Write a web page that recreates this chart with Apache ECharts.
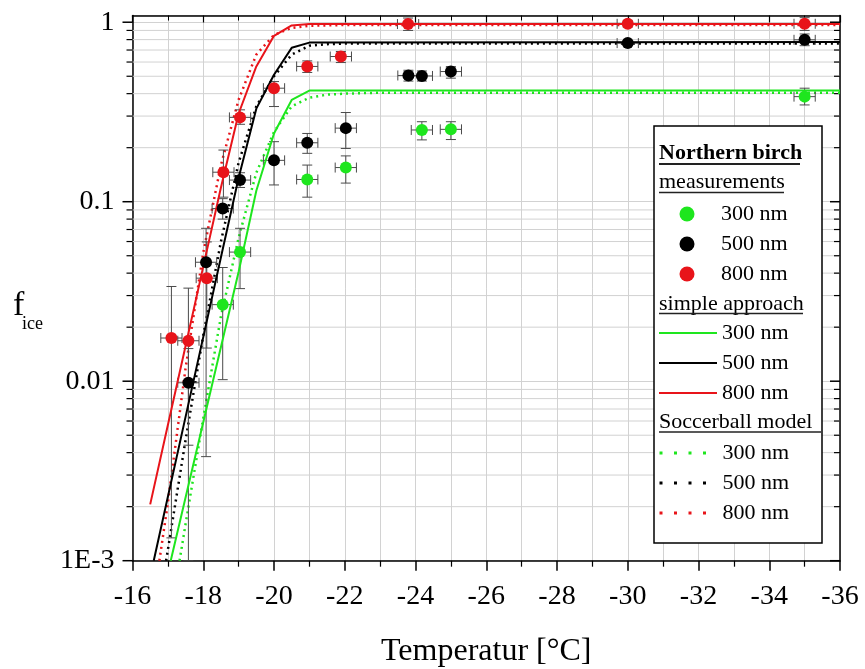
<!DOCTYPE html>
<html>
<head>
<meta charset="utf-8">
<script src="https://cdn.jsdelivr.net/npm/echarts@6/dist/echarts.min.js"></script>
<style>html,body{margin:0;padding:0;background:#fff;}#c{width:865px;height:669px;}</style>
</head>
<body>
<div id="c"></div>
<script>
// ---------- data ----------
const xRange = [-36, -16];
const yRange = [0.001, 1.09];
const yMajorTicks = [0.001, 0.01, 0.1, 1];
const yMajorLabels = ['1E-3', '0.01', '0.1', '1'];
const yMinorTicks = [0.002,0.003,0.004,0.005,0.006,0.007,0.008,0.009,
                     0.02,0.03,0.04,0.05,0.06,0.07,0.08,0.09,
                     0.2,0.3,0.4,0.5,0.6,0.7,0.8,0.9];

// measurements: temperature, f_ice, lower, upper
const m300T  = [-18.55, -19.04, -20.94, -22.03, -24.18, -25.0, -35.0];
const m300F  = [0.0267, 0.0524, 0.133, 0.155, 0.251, 0.253, 0.385];
const m300Lo = [0.0102, 0.0328, 0.106, 0.127, 0.221, 0.222, 0.346];
const m300Hi = [0.043, 0.0711, 0.160, 0.180, 0.279, 0.279, 0.429];

const m500T  = [-17.58, -18.08, -18.55, -19.04, -20.0, -20.94, -22.03, -23.8, -24.18, -25.0, -30.0, -35.0];
const m500F  = [0.0098, 0.046, 0.0916, 0.132, 0.170, 0.213, 0.257, 0.505, 0.502, 0.531, 0.765, 0.798];
const m500Lo = [0.0044, 0.0038, 0.080, 0.120, 0.124, 0.186, 0.198, 0.470, 0.470, 0.488, 0.740, 0.740];
const m500Hi = [0.0152, 0.0711, 0.104, 0.145, 0.216, 0.240, 0.314, 0.540, 0.535, 0.566, 0.790, 0.860];

const m800T  = [-17.1, -17.58, -18.1, -18.57, -19.04, -20.0, -20.94, -21.89, -23.79, -30.0, -35.0];
const m800F  = [0.0174, 0.0168, 0.0375, 0.146, 0.295, 0.429, 0.567, 0.644, 0.977, 0.98, 0.98];
const m800Lo = [0.00134, 0.001, 0.0153, 0.106, 0.270, 0.339, 0.525, 0.596, 0.90, 0.94, 0.90];
const m800Hi = [0.0337, 0.033, 0.0597, 0.194, 0.325, 0.467, 0.609, 0.687, 1.055, 1.02, 1.06];

const tempErr = 0.3;

// simple approach
const s300T = [-17.08, -17.5, -18, -18.5, -19, -19.5, -20, -20.5, -21, -36];
const s300F = [0.001, 0.00225, 0.0059, 0.0155, 0.0407, 0.115, 0.24, 0.369, 0.416, 0.416];
const s500T = [-16.6, -17, -17.5, -18, -18.5, -19, -19.5, -20, -20.5, -21, -36];
const s500F = [0.001, 0.00227, 0.00633, 0.0176, 0.049, 0.136, 0.33, 0.51, 0.72, 0.77, 0.775];
const s800T = [-16.5, -17, -17.5, -18, -18.5, -19, -19.5, -20, -20.5, -21, -36];
const s800F = [0.00206, 0.0057, 0.0157, 0.0435, 0.12, 0.31, 0.567, 0.84, 0.96, 0.978, 0.978];

// soccerball model
const b300T = [-17.33, -17.5, -18, -18.5, -19, -19.5, -20, -20.5, -21, -21.5, -22, -23, -36];
const b300F = [0.001, 0.0016, 0.0062, 0.023, 0.063, 0.145, 0.245, 0.34, 0.38, 0.395, 0.40, 0.405, 0.405];
const b500T = [-16.95, -17, -17.5, -18, -18.5, -19, -19.5, -20, -20.5, -21, -21.5, -22, -36];
const b500F = [0.001, 0.00115, 0.0047, 0.018, 0.06, 0.165, 0.34, 0.50, 0.66, 0.74, 0.755, 0.76, 0.76];
const b800T = [-16.76, -17, -17.5, -18, -18.5, -19, -19.5, -20, -20.5, -21, -22, -36];
const b800F = [0.001, 0.0021, 0.0118, 0.052, 0.16, 0.37, 0.66, 0.85, 0.93, 0.955, 0.965, 0.965];

// ---------- styles ----------
const FONT = '"Liberation Serif", "Times New Roman", serif';
const GREEN = '#1ee61e', BLACK = '#000000', RED = '#e8141a';
const GRID = '#d2d2d2';

const zip = (a, b) => a.map((v, i) => [v, b[i]]);
const errData = (T, F, Lo, Hi) => T.map((t, i) => [t, F[i], Lo[i], Hi[i], tempErr]);

function renderErr(params, api) {
  const x = api.value(0), y = api.value(1), lo = api.value(2), hi = api.value(3), xe = api.value(4);
  const pLo = api.coord([x, lo]), pHi = api.coord([x, hi]);
  const pA = api.coord([x + xe, y]), pB = api.coord([x - xe, y]);
  const cap = 5;
  const st = { stroke: '#4a4a4a', lineWidth: 1 };
  const ln = (x1, y1, x2, y2) => ({ type: 'line', shape: { x1, y1, x2, y2 }, style: st });
  return {
    type: 'group',
    children: [
      ln(pLo[0], pLo[1], pHi[0], pHi[1]),
      ln(pLo[0] - cap, pLo[1], pLo[0] + cap, pLo[1]),
      ln(pHi[0] - cap, pHi[1], pHi[0] + cap, pHi[1]),
      ln(pA[0], pA[1], pB[0], pB[1]),
      ln(pA[0], pA[1] - cap, pA[0], pA[1] + cap),
      ln(pB[0], pB[1] - cap, pB[0], pB[1] + cap)
    ]
  };
}

function renderYTicks(params, api) {
  const v = api.value(1), major = api.value(2) === 1;
  const pl = api.coord([xRange[1], v]), pr = api.coord([xRange[0], v]);
  const ch = [];
  if (!major) ch.push({ type: 'line', shape: { x1: pl[0], y1: pl[1], x2: pr[0], y2: pr[1] }, style: { stroke: GRID, lineWidth: 1 } });
  const L = major ? 10 : 6;
  const w = major ? 1.5 : 1.2;
  ch.push({ type: 'line', shape: { x1: pl[0] - L, y1: pl[1], x2: pl[0], y2: pl[1] }, style: { stroke: '#000', lineWidth: w } });
  ch.push({ type: 'line', shape: { x1: pr[0] - L, y1: pr[1], x2: pr[0], y2: pr[1] }, style: { stroke: '#000', lineWidth: w } });
  return { type: 'group', children: ch };
}

const tickData = yMajorTicks.map(v => [xRange[1], v, 1]).concat(yMinorTicks.map(v => [xRange[1], v, 0]));

const errSeries = (name, T, F, Lo, Hi) => ({
  name: name, type: 'custom', renderItem: renderErr, data: errData(T, F, Lo, Hi),
  clip: true, z: 3, silent: true, legendHoverLink: false
});
const scatter = (name, T, F, c) => ({
  name: name, type: 'scatter', data: zip(T, F), symbol: 'circle', symbolSize: 12,
  itemStyle: { color: c, opacity: 1 }, z: 5
});
const line = (name, T, F, c, dotted) => ({
  name: name, type: 'line', data: zip(T, F), showSymbol: false, symbol: 'none',
  lineStyle: dotted ? { color: c, width: 2.5, type: [2, 4] } : { color: c, width: 2 },
  itemStyle: { color: c }, z: dotted ? 2 : 4, clip: true
});

const legendCommon = {
  orient: 'vertical', left: 658, itemWidth: 58, itemHeight: 15, itemGap: 8, padding: 0,
  selectedMode: false, z: 20,
  textStyle: { fontFamily: FONT, fontSize: 22, color: '#000' },
  formatter: n => n.slice(4) + ' nm'
};

const hdr = (text, y, bold) => ({
  type: 'text', x: 659, y: y, z: 20,
  style: { text: text, fontFamily: FONT, fontSize: 22, fontWeight: bold ? 'bold' : 'normal', fill: '#000', verticalAlign: 'middle', textAlign: 'left' }
});
const uline = (x1, x2, y, w) => ({
  type: 'line', z: 20, shape: { x1: x1, y1: y, x2: x2, y2: y }, style: { stroke: '#222', lineWidth: w }
});

const option = {
  animation: false,
  backgroundColor: '#fff',
  grid: { left: 132.5, right: 25, top: 15.5, bottom: 108.3, containLabel: false, outerBoundsMode: 'none' },
  xAxis: [{
    type: 'value', min: xRange[0], max: xRange[1], interval: 2, inverse: true, position: 'bottom',
    axisLine: { show: true, onZero: false, lineStyle: { color: '#000', width: 1.5 } },
    axisTick: { show: true, inside: false, length: 10, lineStyle: { color: '#000', width: 1.5 } },
    minorTick: { show: true, splitNumber: 2, length: 6, lineStyle: { color: '#000', width: 1.2 } },
    axisLabel: { fontFamily: FONT, fontSize: 28, color: '#000', margin: 22 },
    splitLine: { show: true, lineStyle: { color: GRID, width: 1 } },
    minorSplitLine: { show: true, lineStyle: { color: GRID, width: 1 } },
    name: 'Temperatur [°C]', nameLocation: 'middle', nameGap: 75,
    nameTextStyle: { fontFamily: FONT, fontSize: 32, color: '#000' }
  }, {
    type: 'value', min: xRange[0], max: xRange[1], interval: 2, inverse: true, position: 'top',
    axisLine: { show: true, onZero: false, lineStyle: { color: '#000', width: 1.5 } },
    axisTick: { show: true, inside: true, length: 7, lineStyle: { color: '#000', width: 1.2 } },
    minorTick: { show: true, splitNumber: 2, length: 5, lineStyle: { color: '#000', width: 1 } },
    axisLabel: { show: false }, splitLine: { show: false }
  }],
  yAxis: [{
    type: 'log', logBase: 10, min: yRange[0], max: yRange[1], position: 'left',
    axisLine: { show: true, onZero: false, lineStyle: { color: '#000', width: 1.5 } },
    axisTick: { show: false },
    axisLabel: {
      fontFamily: FONT, fontSize: 28, color: '#000', margin: 18, showMaxLabel: false,
      formatter: v => {
        const e = Math.log10(v), r = Math.round(e);
        if (Math.abs(e - r) > 1e-6) return '';
        const i = yMajorTicks.findIndex(t => Math.abs(Math.log10(t) - r) < 1e-6);
        return i >= 0 ? yMajorLabels[i] : '';
      }
    },
    splitLine: { show: true, lineStyle: { color: GRID, width: 1 } }
  }, {
    type: 'log', logBase: 10, min: yRange[0], max: yRange[1], position: 'right',
    axisLine: { show: true, onZero: false, lineStyle: { color: '#000', width: 1.5 } },
    axisTick: { show: false }, axisLabel: { show: false }, splitLine: { show: false }
  }],
  legend: [
    Object.assign({}, legendCommon, { left: 679.5, top: 203, data: ['meas300', 'meas500', 'meas800'] }),
    Object.assign({}, legendCommon, { top: 322, data: ['simp300', 'simp500', 'simp800'],
      itemStyle: { opacity: 0, borderWidth: 0 } }),
    Object.assign({}, legendCommon, { top: 442, data: ['socc300', 'socc500', 'socc800'],
      itemStyle: { opacity: 0, borderWidth: 0 },
      lineStyle: { width: 3, type: [3, 11.5] } })
  ],
  graphic: [
    { type: 'rect', z: 15, shape: { x: 654, y: 126, width: 168, height: 417 },
      style: { fill: '#fff', stroke: '#000', lineWidth: 1.5 } },
    hdr('Northern birch', 153, true), uline(659, 800, 164, 2),
    hdr('measurements', 182.5, false), uline(659, 784, 192.5, 1.5),
    hdr('simple approach', 304.5, false), uline(659, 803, 313.5, 1.5),
    hdr('Soccerball model', 422.5, false), uline(659, 821, 432, 1.5),
    { type: 'text', x: 13, y: 306.5, z: 20,
      style: { text: 'f', fontFamily: FONT, fontSize: 34, fill: '#000', verticalAlign: 'middle' } },
    { type: 'text', x: 22, y: 324.5, z: 20,
      style: { text: 'ice', fontFamily: FONT, fontSize: 18, fill: '#000', verticalAlign: 'middle' } }
  ],
  series: [
    { name: 'yticks', type: 'custom', renderItem: renderYTicks, data: tickData, z: 1, silent: true, clip: false },
    line('simp300', s300T, s300F, GREEN, false),
    line('simp500', s500T, s500F, BLACK, false),
    line('simp800', s800T, s800F, RED, false),
    line('socc300', b300T, b300F, GREEN, true),
    line('socc500', b500T, b500F, BLACK, true),
    line('socc800', b800T, b800F, RED, true),
    errSeries('e300', m300T, m300F, m300Lo, m300Hi),
    errSeries('e500', m500T, m500F, m500Lo, m500Hi),
    errSeries('e800', m800T, m800F, m800Lo, m800Hi),
    scatter('meas300', m300T, m300F, GREEN),
    scatter('meas500', m500T, m500F, BLACK),
    scatter('meas800', m800T, m800F, RED)
  ]
};

const chart = echarts.init(document.getElementById('c'), null, { renderer: 'canvas' });
chart.setOption(option);
</script>
</body>
</html>
